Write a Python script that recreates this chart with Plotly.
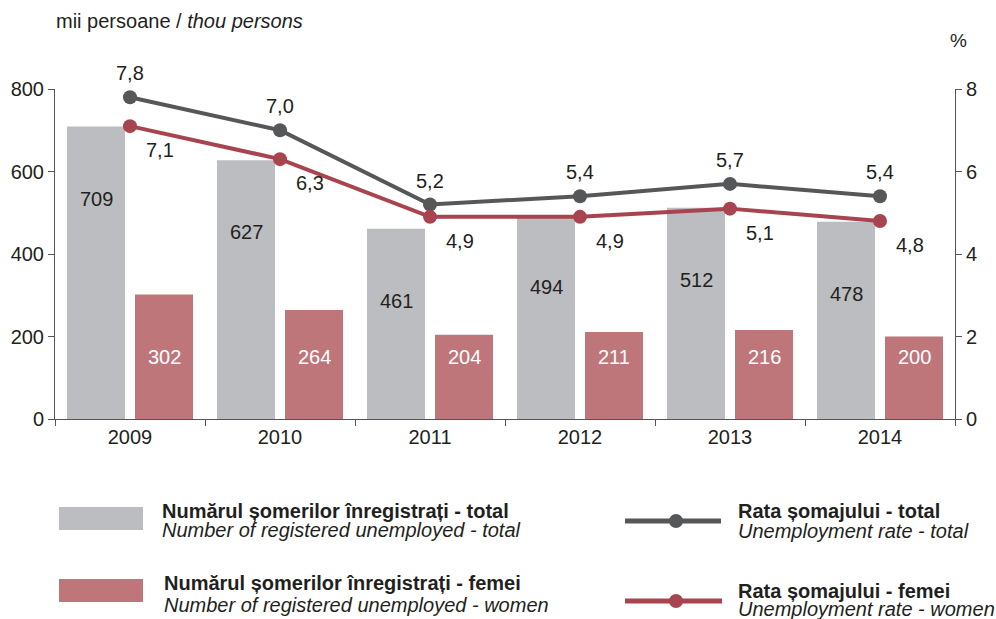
import plotly.graph_objects as go

years = ["2009", "2010", "2011", "2012", "2013", "2014"]
unemployed_total = [709, 627, 461, 494, 512, 478]
unemployed_women = [302, 264, 204, 211, 216, 200]
rate_total = [7.8, 7.0, 5.2, 5.4, 5.7, 5.4]
rate_women = [7.1, 6.3, 4.9, 4.9, 5.1, 4.8]

GRAY_BAR = "#bcbdc1"
PINK_BAR = "#bf767b"
GRAY_LINE = "#555759"
RED_LINE = "#a8444f"
INK = "#231f20"
FONT = "Liberation Sans, Arial, sans-serif"
FS = 20

W, H = 996, 619
L, R, T, B = 55, 955, 89, 419


def px(x):
    return (x - L) / (R - L)


def py(y):
    return (B - y) / (B - T)


def fmt(v):
    return f"{v:.1f}".replace(".", ",")


fig = go.Figure()

fig.add_trace(go.Bar(x=years, y=unemployed_total, marker=dict(color=GRAY_BAR, line_width=0),
                     hoverinfo="skip", showlegend=False))
fig.add_trace(go.Bar(x=years, y=unemployed_women, marker=dict(color=PINK_BAR, line_width=0),
                     hoverinfo="skip", showlegend=False))
fig.add_trace(go.Scatter(x=years, y=rate_total, yaxis="y2", mode="lines+markers",
                         line=dict(color=GRAY_LINE, width=4),
                         marker=dict(size=14, color=GRAY_LINE), showlegend=False))
fig.add_trace(go.Scatter(x=years, y=rate_women, yaxis="y2", mode="lines+markers",
                         line=dict(color=RED_LINE, width=4),
                         marker=dict(size=14, color=RED_LINE), showlegend=False))

# value labels (category axis -> annotations use the category index)
for i, v in enumerate(unemployed_total):
    fig.add_annotation(x=i, y=v, xref="x", yref="y", text=str(v), showarrow=False,
                       xshift=-34, yshift=-72, font=dict(size=FS, color=INK))
for i, v in enumerate(unemployed_women):
    fig.add_annotation(x=i, y=150, xref="x", yref="y", text=str(v), showarrow=False,
                       xshift=34, font=dict(size=FS, color="white"))
for i, v in enumerate(rate_total):
    fig.add_annotation(x=i, y=v, xref="x", yref="y2", text=fmt(v), showarrow=False,
                       yshift=24, font=dict(size=FS, color=INK))
for i, v in enumerate(rate_women):
    fig.add_annotation(x=i, y=v, xref="x", yref="y2", text=fmt(v), showarrow=False,
                       xanchor="left", xshift=14, yshift=-24, font=dict(size=FS, color=INK))

# axis captions
fig.add_annotation(x=px(54), y=py(21), xref="paper", yref="paper", xanchor="left", yanchor="middle",
                   text="mii persoane / <i>thou persons</i>", showarrow=False,
                   font=dict(size=FS, color=INK))
fig.add_annotation(x=px(958), y=py(41), xref="paper", yref="paper", xanchor="center", yanchor="middle",
                   text="%", showarrow=False, font=dict(size=FS - 1, color=INK))

# custom legend
fig.add_shape(type="rect", xref="paper", yref="paper", x0=px(59), x1=px(143), y0=py(530), y1=py(507),
              fillcolor=GRAY_BAR, line_width=0)
fig.add_shape(type="rect", xref="paper", yref="paper", x0=px(59), x1=px(143), y0=py(602), y1=py(579),
              fillcolor=PINK_BAR, line_width=0)
fig.add_shape(type="line", xref="paper", yref="paper", x0=px(625), x1=px(721), y0=py(521), y1=py(521),
              line=dict(color=GRAY_LINE, width=5))
fig.add_shape(type="circle", xref="paper", yref="paper", x0=px(669), x1=px(683), y0=py(528), y1=py(514),
              fillcolor=GRAY_LINE, line_width=0)
fig.add_shape(type="line", xref="paper", yref="paper", x0=px(625), x1=px(722), y0=py(601), y1=py(601),
              line=dict(color=RED_LINE, width=5))
fig.add_shape(type="circle", xref="paper", yref="paper", x0=px(669), x1=px(683), y0=py(608), y1=py(594),
              fillcolor=RED_LINE, line_width=0)

legend_items = [
    (160, 511, 530, "Numărul șomerilor înregistrați - total", "Number of registered unemployed - total"),
    (162, 583, 605, "Numărul șomerilor înregistrați - femei", "Number of registered unemployed - women"),
    (736, 511, 531, "Rata șomajului - total", "Unemployment rate - total"),
    (736, 591, 609, "Rata șomajului - femei", "Unemployment rate - women"),
]
for x, y1, y2, ro, en in legend_items:
    fig.add_annotation(x=px(x), y=py(y1), xref="paper", yref="paper", xanchor="left", yanchor="middle",
                       showarrow=False, text=f"<b>{ro}</b>", font=dict(size=FS, color=INK))
    fig.add_annotation(x=px(x), y=py(y2), xref="paper", yref="paper", xanchor="left", yanchor="middle",
                       showarrow=False, text=f"<i>{en}</i>", font=dict(size=FS, color=INK))

axis_common = dict(showgrid=False, zeroline=False, showline=True, linecolor="#555555", linewidth=1,
                   ticks="outside", ticklen=6, tickcolor="#555555",
                   tickfont=dict(size=FS, color=INK, family=FONT))

fig.update_layout(
    width=W, height=H,
    margin=dict(l=L, r=W - R, t=T, b=H - B, pad=0),
    paper_bgcolor="white", plot_bgcolor="white",
    font=dict(family=FONT, color=INK),
    barmode="group", bargap=0.093, bargroupgap=0.147,
    xaxis=dict(axis_common, type="category", tickson="boundaries", range=[-0.5, 5.5],
               automargin=False),
    yaxis=dict(axis_common, range=[0, 800], dtick=200, automargin=False),
    yaxis2=dict(axis_common, range=[0, 8], dtick=2, overlaying="y", side="right", automargin=False),
)

# the page body has a default 8px margin; drop it so the figure sits at the window origin
fig.write_html("out.html", config={"displayModeBar": False},
               post_script="document.body.style.margin='0';")
